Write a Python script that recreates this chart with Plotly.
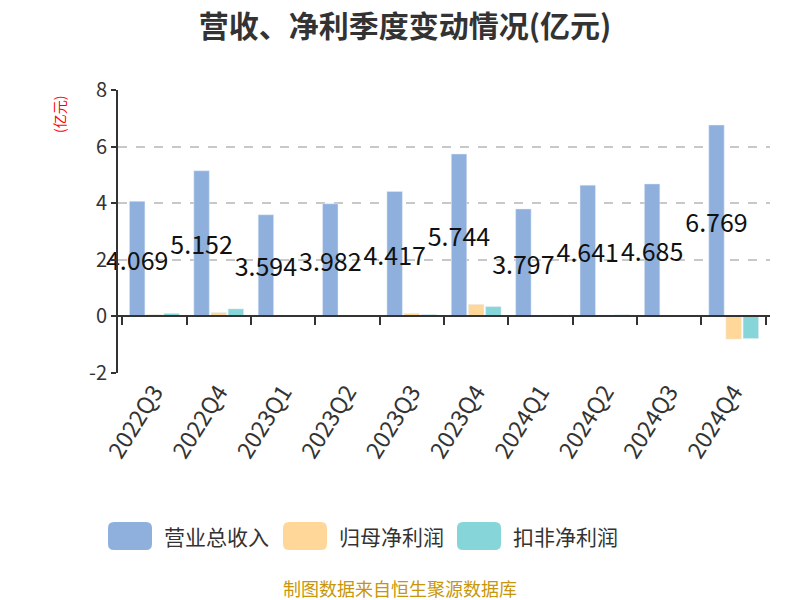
import plotly.graph_objects as go

quarters = ["2022Q3", "2022Q4", "2023Q1", "2023Q2", "2023Q3", "2023Q4",
            "2024Q1", "2024Q2", "2024Q3", "2024Q4"]
revenue = [4.069, 5.152, 3.594, 3.982, 4.417, 5.744, 3.797, 4.641, 4.685, 6.769]
net_profit = [0.06, 0.13, 0.01, 0.03, 0.10, 0.42, 0.03, 0.04, 0.01, -0.81]
net_profit_ex = [0.10, 0.26, 0.01, 0.02, 0.06, 0.34, 0.04, 0.05, 0.01, -0.79]
series_names = ["营业总收入", "归母净利润", "扣非净利润"]
colors = ["#8FB0DD", "#FFD899", "#86D5D9"]
y_ticks = [-2, 0, 2, 4, 6, 8]
y_tick_text = ["-2", "0", "2", "4", "6", "8"]

FONT = "Noto Sans CJK SC"
W, H = 800, 600
ML, MT = 118, 90
MR = W - 770
MB = H - 373
PW, PH = W - ML - MR, H - MT - MB


def px_to_paper(x, y):
    """Convert page pixel coords to paper coords."""
    return (x - ML) / PW, (H - MB - y) / PH


fig = go.Figure()
fig.add_trace(go.Bar(
    x=quarters, y=revenue, name=series_names[0], marker_color=colors[0],
    text=[f"{v:.3f}" for v in revenue], textposition="inside",
    insidetextanchor="middle", constraintext="none", textangle=0,
    textfont=dict(size=25, color="#111", family=FONT),
    cliponaxis=False,
))
fig.add_trace(go.Bar(x=quarters, y=net_profit, name=series_names[1], marker_color=colors[1]))
fig.add_trace(go.Bar(x=quarters, y=net_profit_ex, name=series_names[2], marker_color=colors[2]))
# invisible helper trace for the zero-positioned axis line with boundary ticks
fig.add_trace(go.Scatter(x=quarters, y=[0] * len(quarters), xaxis="x2", mode="markers",
                         marker=dict(opacity=0), showlegend=False, hoverinfo="skip"))

shapes = []
annotations = []
# custom legend: rounded swatches + labels
legend_x = [108, 283, 457]
sw, sh, r = 44, 28, 6
ly0 = 522
for i, name in enumerate(series_names):
    x0 = legend_x[i]
    x1 = x0 + sw
    y0, y1 = ly0, ly0 + sh
    pts = [("M", x0 + r, y0), ("L", x1 - r, y0), ("Q", x1, y0), ("", x1, y0 + r),
           ("L", x1, y1 - r), ("Q", x1, y1), ("", x1 - r, y1), ("L", x0 + r, y1),
           ("Q", x0, y1), ("", x0, y1 - r), ("L", x0, y0 + r), ("Q", x0, y0), ("", x0 + r, y0)]
    parts = []
    for cmd, px, py in pts:
        ux, uy = px_to_paper(px, py)
        parts.append(f"{cmd} {ux:.5f},{uy:.5f}".strip())
    path = " ".join(parts) + " Z"
    shapes.append(dict(type="path", path=path, xref="x domain", yref="y domain",
                       fillcolor=colors[i], line=dict(width=0), layer="above"))
    ax, ay = px_to_paper(x1 + 10, ly0 + sh / 2)
    annotations.append(dict(text=name, x=ax, y=ay, xref="paper", yref="paper",
                            xanchor="left", yanchor="middle", showarrow=False,
                            font=dict(size=21, color="#333", family=FONT)))

yl_x, yl_y = px_to_paper(59, 115)
annotations.append(dict(text="(亿元)", x=yl_x, y=yl_y, xref="paper", yref="paper",
                        xanchor="center", yanchor="middle",
                        showarrow=False, textangle=-90,
                        font=dict(size=14, color="red", family=FONT)))
ft_x, ft_y = px_to_paper(400, 588)
annotations.append(dict(text="制图数据来自恒生聚源数据库", x=ft_x, y=ft_y, xref="paper",
                        yref="paper", showarrow=False, xanchor="center", yanchor="middle",
                        font=dict(size=18, color="#C8960A", family=FONT)))

fig.update_layout(
    width=W, height=H,
    paper_bgcolor="white", plot_bgcolor="white",
    font=dict(family=FONT, color="#333"),
    barmode="group", bargap=0.2, bargroupgap=0.1,
    margin=dict(l=ML, r=MR, t=MT, b=MB, autoexpand=False),
    showlegend=False,
    title=dict(text="<b>营收、净利季度变动情况(亿元)</b>", x=405 / W, xanchor="center",
               y=1 - 26 / H, yanchor="middle",
               font=dict(size=30, color="#333", family=FONT)),
    xaxis=dict(type="category", categoryorder="array", categoryarray=quarters,
               showline=False, ticks="", tickangle=-58, showgrid=False, automargin=False,
               tickfont=dict(size=23, color="#333")),
    xaxis2=dict(type="category", overlaying="x", matches="x", anchor="free", position=0.2,
                showline=True, linecolor="#333", linewidth=2, ticks="outside",
                tickson="boundaries", ticklen=8, tickwidth=2, tickcolor="#333",
                showticklabels=False, showgrid=False, side="bottom", automargin=False),
    yaxis=dict(range=[-2.01, 8.01], tickvals=y_ticks, ticktext=y_tick_text,
               showline=True, linecolor="#333", linewidth=2, automargin=False,
               ticks="outside", ticklen=5, tickwidth=2, tickcolor="#333",
               showgrid=True, gridcolor="#c8c8c8", griddash="dash", gridwidth=1.5,
               zeroline=False, tickfont=dict(size=20, color="#333")),
    shapes=shapes,
    annotations=annotations,
)

fig.write_html("out.html", config={"displayModeBar": False},
               post_script="document.body.style.margin='0';document.body.style.overflow='hidden';")
